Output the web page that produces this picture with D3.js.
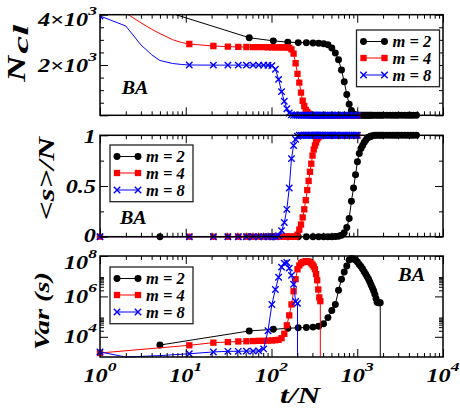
<!DOCTYPE html>
<html>
<head>
<meta charset="utf-8">
<script src="https://cdn.jsdelivr.net/npm/d3@7"></script>
<style>
body { margin: 0; background: #fff; }
</style>
</head>
<body>
<div id="chart"></div>
<script>
// ---- data ----
// m = 2 : sample times for N_cl and <s>/N
let tB = [5,55,105,155,205,255,305,355,405,455,505,555,605,655,705,755,805,855,905,955,1005,1055,1105,1155,1205,1255,1305,1355,1405,1455,1505,1605,1705,1805,1905,2005,2205,2405,2605,2805,3005,3305,3605,3905,4205,4505,4905];
let nclB = [4200,3085,2960,2910,2890,2885,2875,2863,2845,2805,2680,2480,2210,1800,1330,830,440,190,50,10,2,
            1,1,1,1,1,1,1,1,1,1,1,1,1,1,1,1,1,1,1,1,1,1,1,1,1,1];
let fracB = [0,0,0,0,0,0,0,0,0,0,0,0.002,0.005,0.015,0.04,0.09,0.18,0.35,0.48,0.61,0.74,0.82,0.87,0.9,0.93,0.95,0.97,0.98,0.985,0.99,0.995,
             1,1,1,1,1,1,1,1,1,1,1,1,1,1,1,1];
// m = 2 : variance (last entry 0 = variance vanishes)
let tBVar = [5,55,105,155,205,255,305,355,405,455,505,555,605,655,705,755,805,855,905,955,1005,1055,1105,1155,1205,1255,1305,1355,1405,1455,1505,1555,1605,1655,1705,1755,1805,1855,1855];
let varB = [3900,19500,23400,26300,28200,28800,30200,33100,44700,89100,2.0e5,4.0e5,2.0e6,7.1e6,1.6e7,3.2e7,6.3e7,7.6e7,7.1e7,6.3e7,5.0e7,3.8e7,3.0e7,2.3e7,1.66e7,1.26e7,9.3e6,7.1e6,5.0e6,3.6e6,2.6e6,1.86e6,1.26e6,7.9e5,5.2e5,4.9e5,4.9e5,4.9e5,0];

// m = 4 and m = 8 : common sample times
let tRB = [1,11,21,31,41,51,61,71,81,91,101,111,121,131,141,151,161,171,181,191,201,211,221,231,241,251,261,271,281,291,301,311,321,331,341,351,361,371,381,391,401,
           421,441,461,481,501,521,541,561,581,601,641,681,721,761,801,841,881,921,961,1001];
let ncl4 = [4400,2835,2755,2730,2720,2715,2712,2710,2708,2706,2705,2704,2703,2702,2700,2698,2690,2620,2450,2070,1650,1300,900,580,370,210,130,70,30,8,2,
            1,1,1,1,1,1,1,1,1,1,1,1,1,1,1,1,1,1,1,1,1,1,1,1,1,1,1,1,1,1];
let ncl8 = [3950,2000,1995,1995,1995,1995,1995,1994,1993,1990,1975,1830,1430,940,560,260,90,20,4,
            1,1,1,1,1,1,1,1,1,1,1,1,1,1,1,1,1,1,1,1,1,1,1,1,1,1,1,1,1,1,1,1,1,1,1,1,1,1,1,1,1,1,1];
let frac4 = [0,0,0,0,0,0,0,0,0,0,0,0,0,0,0,0,0,0,0,0,
             0.02,0.07,0.12,0.19,0.27,0.36,0.46,0.55,0.64,0.72,0.8,0.86,0.9,0.93,0.96,0.98,0.99,
             1,1,1,1,1,1,1,1,1,1,1,1,1,1,1,1,1,1,1,1,1,1,1,1];
let frac8 = [0,0,0,0,0,0,0,0,0,0,0,0,
             0.01,0.06,0.14,0.27,0.48,0.77,0.9,0.96,0.99,
             1,1,1,1,1,1,1,1,1,1,1,1,1,1,1,1,1,1,1,1,1,1,1,1,1,1,1,1,1,1,1,1,1,1,1,1,1,1,1,1];
let tRVar = [1,11,21,31,41,51,61,71,81,91,101,111,121,131,141,151,161,171,181,191,201,211,221,231,241,251,261,271,281,291,301,311,321,331,341,351,361,371,371];
let var4 = [1580,3800,5130,5500,5890,6030,6170,6310,6310,6460,6610,6760,7080,8510,14100,37000,1.15e5,4.0e5,1.8e6,7.1e6,2.2e7,3.4e7,4.4e7,4.9e7,5.2e7,5.5e7,5.5e7,5.2e7,5.0e7,4.3e7,3.7e7,3.0e7,2.2e7,1.26e7,6.3e6,2.2e6,8.9e5,5.8e5,0];
let tBlVar = [1,11,21,31,41,51,61,71,81,91,101,111,121,131,141,151,161,171,181,191,201,201];
let var8 = [1780,1450,1780,1910,1910,1950,1950,2000,2510,20000,4.0e5,2.2e6,8.9e6,2.8e7,4.4e7,4.8e7,2.5e7,1.1e7,4.0e6,5.6e5,4.5e5,0];

// points between markers (line only)
let tExtra = [2,3,4,5,7,9];
let ncl4Extra = [4060,3680,3420,3250,3010,2890];
let ncl8Extra = [3550,2800,2410,2180,2060,2020];
let tExtra8Var = [2,5];
let var8Extra = [1000,1170];

let legendLabels = ["m = 2", "m = 4", "m = 8"];
let xTickExp = ["0","1","2","3","4"];

// ---- layout ----
const width = 460, height = 408;
const left = 100, right = 443;
const FONT = "Liberation Serif";
const svg = d3.select("#chart").append("svg").attr("width", width).attr("height", height);

function txt(parent) {
  return parent.append("text").attr("font-family", FONT)
    .attr("font-weight", "bold").attr("font-style", "italic").attr("fill", "#000");
}

const x = d3.scaleLog().domain([1, 1e4]).range([left, right]);
const yN = d3.scaleLinear().domain([0, 4000]).range([115.3, 14.7]);
const yF = d3.scaleLinear().domain([0, 1]).range([236.7, 135.3]);
const yV = d3.scaleLog().domain([1e3, 1e8]).range([357, 256]);

const series = [
  {color: "#000000", shape: "circle", t: tB, ncl: nclB, frac: fracB, tv: tBVar, vr: varB,
   tEx: [], nclEx: [], tvEx: [], vrEx: []},
  {color: "#ff0000", shape: "square", t: tRB, ncl: ncl4, frac: frac4, tv: tRVar, vr: var4,
   tEx: tExtra, nclEx: ncl4Extra, tvEx: [], vrEx: []},
  {color: "#0000ff", shape: "cross", t: tRB, ncl: ncl8, frac: frac8, tv: tBlVar, vr: var8,
   tEx: tExtra, nclEx: ncl8Extra, tvEx: tExtra8Var, vrEx: var8Extra}
];

function markerPath(shape) {
  if (shape === "circle") return d3.symbol(d3.symbolCircle, 38)();
  if (shape === "square") return d3.symbol(d3.symbolSquare, 40)();
  return "M-3.2,-3.2L3.2,3.2M-3.2,3.2L3.2,-3.2";
}
function drawMarkers(g, pts, s) {
  g.selectAll(null).data(pts).join("path")
    .attr("transform", d => `translate(${d[0]},${d[1]})`)
    .attr("d", markerPath(s.shape))
    .attr("fill", s.shape === "cross" ? "none" : s.color)
    .attr("stroke", s.shape === "cross" ? s.color : "none")
    .attr("stroke-width", 1.4);
}

svg.append("clipPath").attr("id", "clipTop")
  .append("rect").attr("x", left).attr("y", 14.7).attr("width", right - left).attr("height", 115);

const panels = [
  {y: yN, top: 14.7, bottom: 115.3, log: false, max: 4000, clip: "url(#clipTop)",
   get: s => [s.t, s.ncl, s.tEx, s.nclEx]},
  {y: yF, top: 135.3, bottom: 236.7, log: false, max: 1, clip: null,
   get: s => [s.t, s.frac, [], []]},
  {y: yV, top: 256, bottom: 357, log: true, max: 1e8, clip: null,
   get: s => [s.tv, s.vr, s.tvEx, s.vrEx]}
];

const line = d3.line().x(d => d[0]).y(d => d[1]);

panels.forEach(function(p) {
  const py = v => (p.log && v <= 0) ? p.bottom : p.y(v);
  const dataG = svg.append("g").attr("clip-path", p.clip);
  series.forEach(function(s) {
    const [ts, vs, te, ve] = p.get(s);
    let pts = ts.map((t, i) => ({t: t, v: vs[i]}));
    let all = pts.concat(te.map((t, i) => ({t: t, v: ve[i]})));
    all.sort((a, b) => a.t - b.t);
    dataG.append("path")
      .attr("fill", "none").attr("stroke", s.color).attr("stroke-width", 1)
      .attr("d", line(all.map(d => [x(d.t), py(d.v)])));
    let mk = pts.filter(d => (!p.log || d.v > 0) && d.v <= p.max).map(d => [x(d.t), py(d.v)]);
    drawMarkers(dataG, mk, s);
  });

  // frame and inward ticks
  const xMajor = [1, 10, 100, 1000, 10000];
  const xMinor = [];
  [1, 10, 100, 1000].forEach(dec => { for (let k = 2; k <= 9; k++) xMinor.push(k * dec); });
  let yMajor, yMinor;
  if (p.y === yN) { yMajor = [0, 2000, 4000]; yMinor = [500, 1000, 1500, 2500, 3000, 3500]; }
  else if (p.y === yF) { yMajor = [0, 0.5, 1]; yMinor = [0.25, 0.75]; }
  else {
    yMajor = [1e4, 1e6, 1e8]; yMinor = [];
    [1e4, 1e6].forEach(dec => { for (let k = 2; k <= 9; k++) yMinor.push(k * dec); });
  }
  const axes = [
    [d3.axisBottom(x), `translate(0,${p.bottom})`, xMajor, xMinor],
    [d3.axisTop(x), `translate(0,${p.top})`, xMajor, xMinor],
    [d3.axisLeft(p.y), `translate(${left},0)`, yMajor, yMinor],
    [d3.axisRight(p.y), `translate(${right},0)`, yMajor, yMinor]
  ];
  axes.forEach(function([ax, tr, maj, min]) {
    [[maj, 8], [min, 4]].forEach(function([vals, len]) {
      svg.append("g").attr("transform", tr)
        .call(ax.tickValues(vals).tickSize(-len).tickFormat(""))
        .call(g => g.select(".domain").remove())
        .call(g => g.selectAll("line").attr("stroke", "#000").attr("stroke-width", 1));
    });
  });
  svg.append("rect").attr("x", left).attr("y", p.top)
    .attr("width", right - left).attr("height", p.bottom - p.top)
    .attr("fill", "none").attr("stroke", "#000").attr("stroke-width", 1.5);
});

// ---- tick labels ----
function tickLabel(px, py, main, sup, anchor) {
  const t = txt(svg)
    .attr("transform", `translate(${px},${py}) scale(1.35,1)`)
    .attr("text-anchor", anchor).attr("font-size", 18);
  t.append("tspan").text(main);
  if (sup) t.append("tspan").attr("font-size", 13).attr("dy", -11).text(sup);
}
[1, 10, 100, 1000, 10000].forEach((v, i) => tickLabel(x(v), 382, "10", xTickExp[i], "middle"));
tickLabel(97, yN(2000) + 6.5, "2×10", "3", "end");
tickLabel(97, yN(4000) + 11, "4×10", "3", "end");
tickLabel(96, yF(0) + 5, "0", null, "end");
tickLabel(96, yF(0.5) + 6.5, "0.5", null, "end");
tickLabel(96, yF(1) + 8, "1", null, "end");
tickLabel(97, yV(1e4) + 6.5, "10", "4", "end");
tickLabel(97, yV(1e6) + 6.5, "10", "6", "end");
tickLabel(97, yV(1e8) + 13, "10", "8", "end");

// ---- axis titles ----
function stretched(px, py, rot, str, size, len, dx, dy) {
  txt(svg)
    .attr("transform", `translate(${px},${py}) rotate(${rot})`)
    .attr("x", dx || 0).attr("y", dy || 0)
    .attr("font-size", size)
    .attr("textLength", len).attr("lengthAdjust", "spacingAndGlyphs")
    .text(str);
}
stretched(25, 81.7, -90, "N", 26, 26);
stretched(25, 81.7, -90, "cl", 20, 29, 28, 3);
stretched(54, 220, -90, "<s>/N", 24, 83);
stretched(49, 350, -90, "Var (s)", 21, 78);
stretched(280, 403, 0, "t/N", 23, 40);
stretched(121.7, 94.3, 0, "BA", 18, 26.7);
stretched(120, 224.3, 0, "BA", 18, 26.7);
stretched(398.3, 281.3, 0, "BA", 18, 26.7);

// ---- legends ----
function legend(x0, y0) {
  const g = svg.append("g");
  g.append("rect").attr("x", x0).attr("y", y0).attr("width", 83).attr("height", 56.7)
    .attr("fill", "#fff").attr("stroke", "#222").attr("stroke-width", 1.3);
  [11.5, 28, 45].forEach(function(off, i) {
    const s = series[i], ry = y0 + off;
    g.append("line").attr("x1", x0 + 7).attr("x2", x0 + 28).attr("y1", ry).attr("y2", ry)
      .attr("stroke", s.color).attr("stroke-width", 1);
    drawMarkers(g, [[x0 + 7, ry], [x0 + 28, ry]], s);
    txt(g).attr("x", x0 + 36).attr("y", ry + 5.5).attr("font-size", 16.5).text(legendLabels[i]);
  });
}
legend(356.5, 30);
legend(110, 145);
legend(110, 267);
</script>
</body>
</html>
